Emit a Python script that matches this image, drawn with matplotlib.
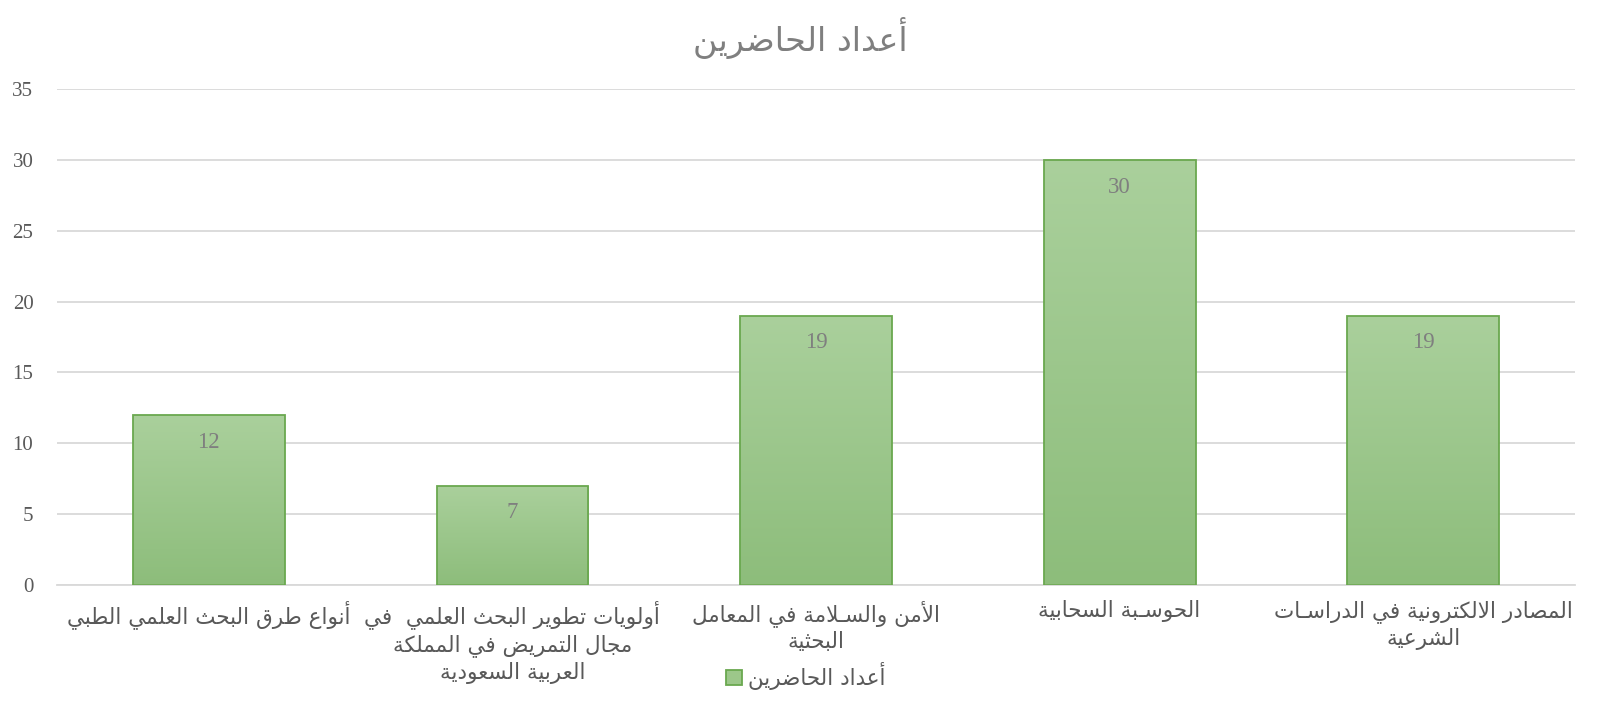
import numpy as np
import matplotlib
matplotlib.use("Agg")
import matplotlib.pyplot as plt
from matplotlib.patches import Patch
from matplotlib.colors import LinearSegmentedColormap

# ---------------- data ----------------
title_text = "أعداد الحاضرين"
series_name = "أعداد الحاضرين"
categories = [
    "أنواع طرق البحث العلمي الطبي",
    "أولويات تطوير البحث العلمي  في\nمجال التمريض في المملكة\nالعربية السعودية",
    "الأمن والسـلامة في المعامل\nالبحثية",
    "الحوسـبة السحابية",
    "المصادر الالكترونية في الدراسـات\nالشرعية",
]
values = [12, 7, 19, 30, 19]
y_ticks = [0, 5, 10, 15, 20, 25, 30, 35]

# ---------------- minimal Arabic shaper ----------------
_FORMS = {}
def _add(ch, base, n):
    if n == 4:
        _FORMS[ch] = (base, base + 1, base + 2, base + 3)
    elif n == 2:
        _FORMS[ch] = (base, base + 1, None, None)
    else:
        _FORMS[ch] = (base, None, None, None)

_add('\u0621', 0xFE80, 1)
_add('\u0622', 0xFE81, 2)
_add('\u0623', 0xFE83, 2)
_add('\u0624', 0xFE85, 2)
_add('\u0625', 0xFE87, 2)
_add('\u0626', 0xFE89, 4)
_add('\u0627', 0xFE8D, 2)
_add('\u0628', 0xFE8F, 4)
_add('\u0629', 0xFE93, 2)
_add('\u062A', 0xFE95, 4)
_add('\u062B', 0xFE99, 4)
_add('\u062C', 0xFE9D, 4)
_add('\u062D', 0xFEA1, 4)
_add('\u062E', 0xFEA5, 4)
_add('\u062F', 0xFEA9, 2)
_add('\u0630', 0xFEAB, 2)
_add('\u0631', 0xFEAD, 2)
_add('\u0632', 0xFEAF, 2)
_add('\u0633', 0xFEB1, 4)
_add('\u0634', 0xFEB5, 4)
_add('\u0635', 0xFEB9, 4)
_add('\u0636', 0xFEBD, 4)
_add('\u0637', 0xFEC1, 4)
_add('\u0638', 0xFEC5, 4)
_add('\u0639', 0xFEC9, 4)
_add('\u063A', 0xFECD, 4)
_add('\u0641', 0xFED1, 4)
_add('\u0642', 0xFED5, 4)
_add('\u0643', 0xFED9, 4)
_add('\u0644', 0xFEDD, 4)
_add('\u0645', 0xFEE1, 4)
_add('\u0646', 0xFEE5, 4)
_add('\u0647', 0xFEE9, 4)
_add('\u0648', 0xFEED, 2)
_add('\u0649', 0xFEEF, 2)
_add('\u064A', 0xFEF1, 4)
# lam-alef ligatures (private markers)
_LAMALEF = {'\u0622': 0xFEF5, '\u0623': 0xFEF7, '\u0625': 0xFEF9, '\u0627': 0xFEFB}
for k, b in _LAMALEF.items():
    _FORMS['LA' + k] = (b, b + 1, None, None)
TATWEEL = '\u0640'


def _dual(t):
    if t == TATWEEL:
        return True
    f = _FORMS.get(t)
    return f is not None and f[2] is not None


def _joining(t):
    return t == TATWEEL or (t in _FORMS and _FORMS[t][1] is not None)


def shape_line(s):
    toks = []
    i = 0
    while i < len(s):
        c = s[i]
        if c == '\u0644' and i + 1 < len(s) and s[i + 1] in _LAMALEF:
            toks.append('LA' + s[i + 1])
            i += 2
        else:
            toks.append(c)
            i += 1
    out = []
    for j, t in enumerate(toks):
        if t not in _FORMS:
            out.append(t)
            continue
        prev = toks[j - 1] if j > 0 else None
        nxt = toks[j + 1] if j + 1 < len(toks) else None
        cp = prev is not None and _dual(prev) and _joining(t)
        cn = nxt is not None and _dual(t) and _joining(nxt)
        f = _FORMS[t]
        if cp and cn:
            code = f[3]
        elif cp:
            code = f[1]
        elif cn:
            code = f[2]
        else:
            code = f[0]
        out.append(chr(code))
    return ''.join(out)[::-1]


def shape(s):
    return '\n'.join(shape_line(l) for l in s.split('\n'))

# ---------------- figure ----------------
W, H = 1600, 708
fig = plt.figure(figsize=(W / 100, H / 100), dpi=100)
ax = fig.add_axes([57 / W, 1 - 585 / H, (1575 - 57) / W, (585 - 89) / H])

grey_txt = '#595959'
grid_col = '#d9d9d9'
edge_col = '#6aa84f'

x = np.arange(len(categories))
bars = ax.bar(x, values, width=0.5, color='none', edgecolor=edge_col,
              linewidth=1.3, zorder=3)

cmap = LinearSegmentedColormap.from_list('g', ['#8dbd7b', '#aad09c'])
grad = np.linspace(0, 1, 256).reshape(-1, 1)
for b in bars:
    x0, y0 = b.get_x(), b.get_y()
    w, h = b.get_width(), b.get_height()
    im = ax.imshow(grad, cmap=cmap, origin='lower', aspect='auto',
                   extent=[x0, x0 + w, y0, y0 + h], zorder=2)
    im.set_clip_path(b)

ax.set_xlim(-0.5, len(categories) - 0.5)
ax.set_ylim(0, 35)
ax.set_yticks(y_ticks)
ax.set_yticklabels([str(t) for t in y_ticks], family='Liberation Serif',
                   fontsize=15, color=grey_txt)
ax.tick_params(axis='y', length=0, pad=17)
ax.yaxis.grid(True, color=grid_col, linewidth=1.3, zorder=0)
ax.set_axisbelow(True)
for side in ['left', 'right', 'top']:
    ax.spines[side].set_visible(False)
ax.spines['bottom'].set_color(grid_col)
ax.spines['bottom'].set_linewidth(1.3)

ax.set_xticks(x)
ax.set_xticklabels([shape(c) for c in categories], family='DejaVu Sans',
                   fontsize=15.5, color=grey_txt, linespacing=1.3,
                   multialignment='center')
ax.tick_params(axis='x', length=0, pad=11)

for xi, v in zip(x, values):
    ax.annotate(str(v), (xi, v), xytext=(0, -12), textcoords='offset points',
                ha='center', va='top', family='Liberation Serif', fontsize=16.5,
                color='#7f7f7f', zorder=5)

fig.text(0.5, 1 - 38 / H, shape(title_text), ha='center', va='center',
         family='DejaVu Sans', fontsize=24, color='#7f7f7f')

handle = Patch(facecolor='#9cc78a', edgecolor=edge_col, linewidth=1.3)
fig.legend([handle], [shape(series_name)], loc='center',
           bbox_to_anchor=(806 / W, 1 - 676 / H), frameon=False,
           prop={'family': 'DejaVu Sans', 'size': 15.5}, labelcolor=grey_txt,
           handlelength=0.7, handleheight=0.7, handletextpad=0.3)

fig.savefig('out.png', dpi=100)
